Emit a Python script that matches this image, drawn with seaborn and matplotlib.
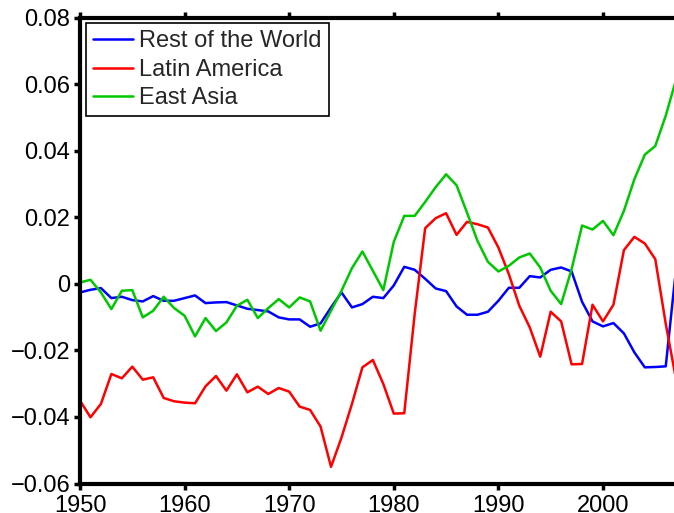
import numpy as np
import pandas as pd
import matplotlib
matplotlib.use("Agg")
import matplotlib.pyplot as plt
import seaborn as sns

years = list(range(1950, 2008))

rest_of_world = [
    -0.0026, -0.0018, -0.0013, -0.0043, -0.0039, -0.0049, -0.0053, -0.0037, -0.0051, -0.0051,
    -0.0043, -0.0035, -0.0058, -0.0056, -0.0055, -0.0065, -0.0075, -0.0079, -0.0083, -0.0101,
    -0.0107, -0.0107, -0.0129, -0.0119, -0.0071, -0.0026, -0.0071, -0.0061, -0.0039, -0.0043,
    -0.0005, 0.0051, 0.0042, 0.0015, -0.0014, -0.0022, -0.0068, -0.0093, -0.0093, -0.0084,
    -0.0051, -0.0012, -0.0012, 0.0023, 0.0019, 0.0042, 0.0049, 0.0037, -0.0054, -0.0113,
    -0.0128, -0.0118, -0.0149, -0.0206, -0.0251, -0.0250, -0.0248, 0.0050,
]

latin_america = [
    -0.0351, -0.0401, -0.0361, -0.0271, -0.0284, -0.0249, -0.0288, -0.0281, -0.0343, -0.0353,
    -0.0357, -0.0359, -0.0308, -0.0277, -0.0321, -0.0272, -0.0326, -0.0309, -0.0331, -0.0313,
    -0.0324, -0.0369, -0.0379, -0.0429, -0.0550, -0.0462, -0.0361, -0.0251, -0.0229, -0.0301,
    -0.0390, -0.0389, -0.0090, 0.0167, 0.0197, 0.0212, 0.0147, 0.0186, 0.0179, 0.0169,
    0.0109, 0.0029, -0.0066, -0.0131, -0.0219, -0.0084, -0.0113, -0.0242, -0.0241, -0.0063,
    -0.0113, -0.0063, 0.0101, 0.0141, 0.0121, 0.0074, -0.0120, -0.0290,
]

east_asia = [
    0.0004, 0.0012, -0.0026, -0.0076, -0.0021, -0.0019, -0.0101, -0.0081, -0.0039, -0.0073,
    -0.0096, -0.0158, -0.0103, -0.0142, -0.0116, -0.0066, -0.0048, -0.0103, -0.0073, -0.0046,
    -0.0071, -0.0041, -0.0053, -0.0141, -0.0081, -0.0021, 0.0047, 0.0097, 0.0039, -0.0019,
    0.0126, 0.0204, 0.0204, 0.0246, 0.0290, 0.0329, 0.0296, 0.0214, 0.0129, 0.0066,
    0.0037, 0.0054, 0.0079, 0.0091, 0.0049, -0.0021, -0.0061, 0.0044, 0.0175, 0.0163,
    0.0189, 0.0146, 0.0219, 0.0314, 0.0388, 0.0414, 0.0505, 0.0615,
]

series_names = ["Rest of the World", "Latin America", "East Asia"]
series_colors = ["#0000FF", "#FF0000", "#00C800"]

xticks = [1950, 1960, 1970, 1980, 1990, 2000]
yticks = [-0.06, -0.04, -0.02, 0.0, 0.02, 0.04, 0.06, 0.08]
ytick_labels = ["\u22120.06", "\u22120.04", "\u22120.02", "0", "0.02", "0.04", "0.06", "0.08"]

df = pd.DataFrame({
    "Year": years * 3,
    "Value": rest_of_world + latin_america + east_asia,
    "Region": sum([[n] * len(years) for n in series_names], []),
})

sns.set_theme(style="white")
plt.rcParams["font.family"] = ["Liberation Sans", "DejaVu Sans"]

fig = plt.figure(figsize=(6.74, 5.13), dpi=100)
ax = fig.add_axes([80 / 674, 29.5 / 513, (676.2 - 80) / 674, (483.5 - 17.5) / 513])

sns.lineplot(data=df, x="Year", y="Value", hue="Region", hue_order=series_names,
             palette=dict(zip(series_names, series_colors)), linewidth=1.8,
             estimator=None, ax=ax, legend=True)

ax.set_xlim(1950, 2007)
ax.set_ylim(-0.06, 0.08)
ax.set_xticks(xticks)
ax.set_xticklabels([str(t) for t in xticks])
ax.set_yticks(yticks)
ax.set_yticklabels(ytick_labels)
ax.set_xlabel("")
ax.set_ylabel("")

for s in ax.spines.values():
    s.set_linewidth(3)
    s.set_color("black")
ax.tick_params(axis="both", which="major", direction="out", length=4, width=2.5,
               labelsize=17, colors="black", pad=3, top=True, bottom=True, left=True, right=False)
ax.tick_params(axis="x", pad=4)

handles, labels = ax.get_legend_handles_labels()
leg = ax.legend(handles, labels, loc="upper left", fontsize=17, frameon=True, fancybox=False,
                framealpha=1, edgecolor="black", borderaxespad=0.25, handlelength=1.7,
                handletextpad=0.25, labelspacing=0.27, borderpad=0.3)
leg.get_frame().set_linewidth(1.2)

fig.savefig("out.png", dpi=100)
